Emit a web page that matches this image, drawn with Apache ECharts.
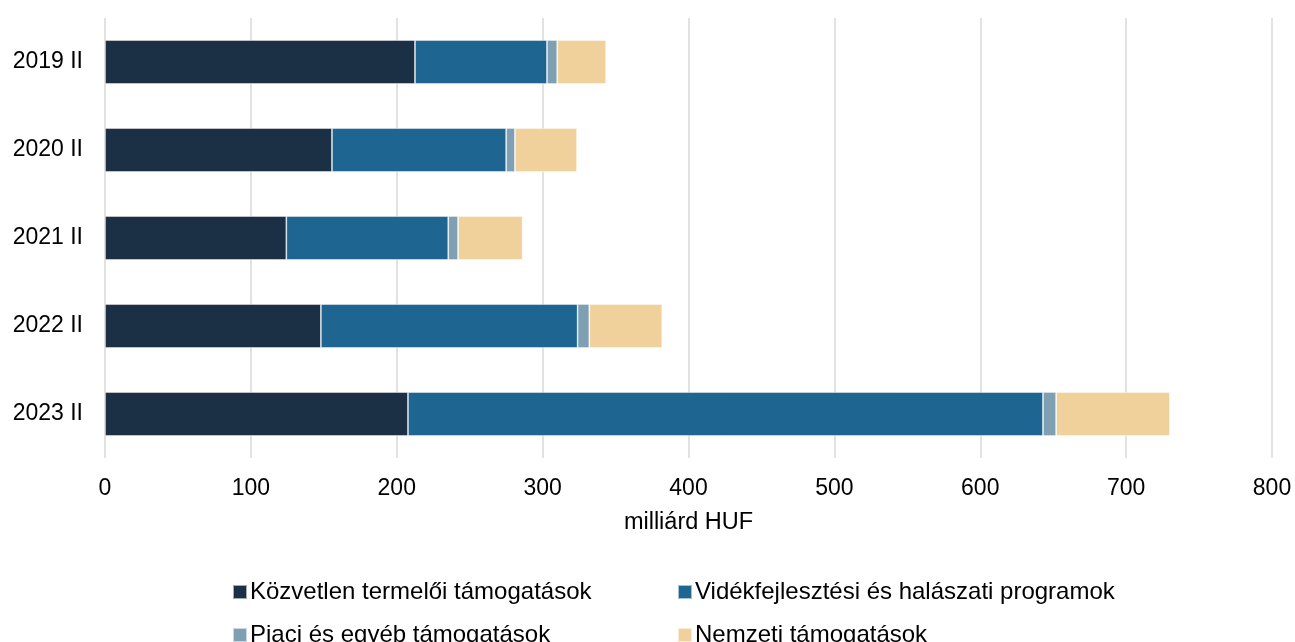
<!DOCTYPE html>
<html>
<head>
<meta charset="utf-8">
<script src="https://cdn.jsdelivr.net/npm/echarts@6/dist/echarts.min.js"></script>
<style>
  html, body { margin: 0; padding: 0; background: #fff; }
  #chart { width: 1295px; height: 642px; }
</style>
</head>
<body>
<div id="chart"></div>
<script>
// időszakok (felülről lefelé)
const periods = ['2019 II', '2020 II', '2021 II', '2022 II', '2023 II'];
const xTicks = [0, 100, 200, 300, 400, 500, 600, 700, 800];

// milliárd HUF
const kozvetlen = [212.5, 155.6, 124.3, 148.0, 207.7];
const videkfejlesztesi = [90.5, 119.4, 111.0, 176.0, 435.3];
const piaci = [7.0, 6.0, 6.7, 8.0, 9.0];
const nemzeti = [33.5, 42.6, 44.3, 50.0, 78.0];

const seriesNames = [
  'Közvetlen termelői támogatások',
  'Vidékfejlesztési és halászati programok',
  'Piaci és egyéb támogatások',
  'Nemzeti támogatások',
];
const colors = ['#1b3045', '#1f6592', '#7f9fb2', '#f1d19b'];
const values = [kozvetlen, videkfejlesztesi, piaci, nemzeti];

const font = 'Liberation Sans, Arial, sans-serif';

const chart = echarts.init(document.getElementById('chart'));

// egy legenda elemenként, hogy a két oszlop igazodjon
const legendPos = [
  { left: 227, top: 575 },
  { left: 672, top: 575 },
  { left: 227, top: 618 },
  { left: 672, top: 618 },
];

const option = {
  animation: false,
  color: colors,
  grid: {
    left: 105,
    right: 23,
    top: 18,
    bottom: 184,
    containLabel: false,
  },
  legend: seriesNames.map((name, i) => ({
    data: [name],
    left: legendPos[i].left,
    top: legendPos[i].top,
    icon: 'rect',
    itemWidth: 14,
    itemHeight: 14,
    itemGap: 0,
    textStyle: { fontFamily: font, fontSize: 24, color: '#000', padding: [0, 0, 0, -2] },
  })),
  xAxis: {
    type: 'value',
    min: 0,
    max: 800,
    interval: 100,
    name: 'milliárd HUF',
    nameLocation: 'middle',
    nameGap: 53,
    nameTextStyle: { fontFamily: font, fontSize: 23.5, color: '#000' },
    axisLine: { show: false },
    axisTick: { show: false },
    axisLabel: { fontFamily: font, fontSize: 23, color: '#000', margin: 19 },
    splitLine: { show: true, lineStyle: { color: '#d9d9d9', width: 1.5 } },
  },
  yAxis: {
    type: 'category',
    data: periods,
    inverse: true,
    axisLine: { show: false },
    axisTick: { show: false },
    axisLabel: { fontFamily: font, fontSize: 23, color: '#000', margin: 22 },
  },
  series: seriesNames.map((name, i) => ({
    name: name,
    type: 'bar',
    stack: 'total',
    barWidth: '50%',
    data: values[i],
    itemStyle: { color: colors[i], borderColor: 'rgba(255,255,255,0.6)', borderWidth: 0.8 },
  })),
};

chart.setOption(option);
</script>
</body>
</html>
